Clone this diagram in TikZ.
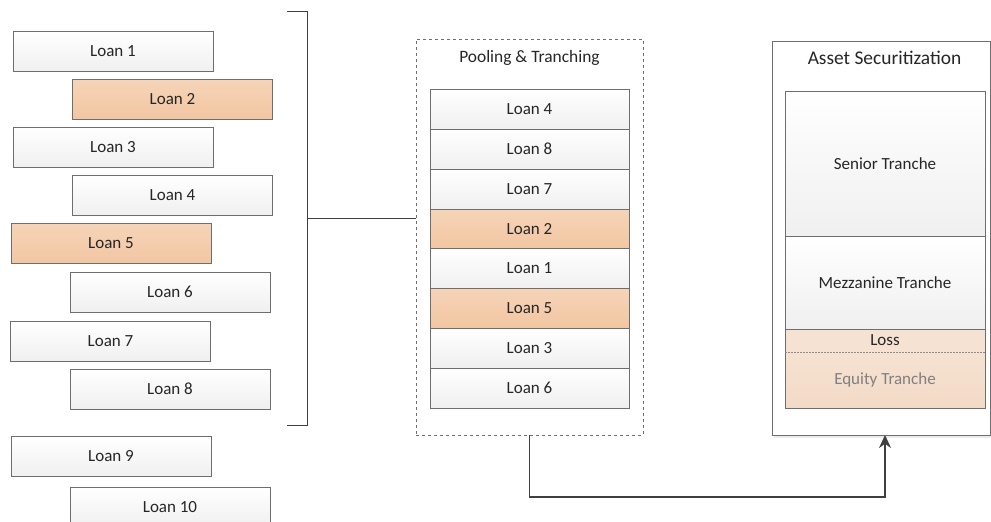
\documentclass[tikz,border=0pt]{standalone}
\usepackage{fontspec}
\setmainfont{Carlito}
\usetikzlibrary{arrows.meta,positioning,calc}

\definecolor{edge}{RGB}{110,110,110}
\definecolor{linegray}{RGB}{64,64,64}
\definecolor{orangetop}{RGB}{246,212,184}
\definecolor{orangebot}{RGB}{242,198,162}
\definecolor{paletop}{RGB}{246,226,210}
\definecolor{palebot}{RGB}{242,218,198}

\begin{document}
\begin{tikzpicture}[
  x=1pt, y=-1pt,
  loan/.style={draw=edge, line width=0.8pt, minimum width=200pt, minimum height=40pt,
               inner sep=0pt, outer sep=0pt, top color=white, bottom color=black!6,
               font=\fontsize{17}{19}\selectfont, text=black!85},
  hot/.style={loan, top color=orangetop, bottom color=orangebot},
  row/.style={loan, minimum width=199pt, minimum height=39.9pt},
  panel/.style={draw=edge, line width=0.8pt, inner sep=0pt, outer sep=0pt},
  ttl/.style={font=\fontsize{17.4}{19}\selectfont, text=black!85},
  >={Stealth[length=13pt,width=12pt]}
]
  \useasboundingbox (0,0) rectangle (991,522);

  % individual loans
  \node[loan] (l1)  at (113,51.5)   {Loan 1};
  \node[hot]  (l2)  at (172.5,99.5) {Loan 2};
  \node[loan] (l3)  at (113,147)    {Loan 3};
  \node[loan] (l4)  at (172.5,195.5){Loan 4};
  \node[hot]  (l5)  at (111,243.5)  {Loan 5};
  \node[loan] (l6)  at (170,292)    {Loan 6};
  \node[loan] (l7)  at (110.5,341)  {Loan 7};
  \node[loan] (l8)  at (170,389)    {Loan 8};
  \node[loan] (l9)  at (111,456.5)  {Loan 9};
  \node[loan] (l10) at (170,507)    {Loan 10};

  % pool
  \node[panel, dashed, minimum width=227pt, minimum height=396pt] (pool) at (529.5,237) {};
  \node[ttl] (pooltitle) at (529.5,58) {Pooling \& Tranching};
  \node[row] (p4) at (529.5,109) {Loan 4};
  \node[row] (p8) at (529.5,149) {Loan 8};
  \node[row] (p7) at (529.5,189) {Loan 7};
  \node[row, top color=orangetop, bottom color=orangebot] (p2) at (529.5,229) {Loan 2};
  \node[row] (p1) at (529.5,268.5) {Loan 1};
  \node[row, top color=orangetop, bottom color=orangebot] (p5) at (529.5,308) {Loan 5};
  \node[row] (p3) at (529.5,348) {Loan 3};
  \node[row] (p6) at (529.5,388) {Loan 6};

  % securitization
  \fill[black!8] (774,435) rectangle (991,438);
  \node[panel, fill=white, minimum width=218pt, minimum height=394pt] (asset) at (881,238) {};
  \node[ttl, font=\fontsize{19.4}{21}\selectfont] (assettitle) at (884.5,58) {Asset Securitization};
  \node[loan, minimum height=145pt] (senior) at (885,163.5) {Senior Tranche};
  \node[loan, minimum height=93pt]  (mezz)   at (885,282.5) {Mezzanine Tranche};
  \node[loan, draw=none, top color=paletop, bottom color=paletop, minimum height=23pt] (loss) at (885,340.5) {Loss};
  \node[loan, draw=none, top color=paletop, bottom color=palebot, minimum height=56pt, text=black!50] (equity) at (885,380) {Equity Tranche};
  \draw[edge, line width=0.8pt] (loss.north west) rectangle (equity.south east);
  \draw[black!45, line width=0.7pt, dash pattern=on 2pt off 1pt] (loss.south west) -- (loss.south east);

  % bracket
  \coordinate (btop) at (287,11);
  \coordinate (bbot) at (287,425);
  \coordinate (bmid) at (307,218);
  \draw[linegray, line width=0.8pt] (btop) -- ++(20,0) |- (bbot);
  \draw[linegray, line width=0.8pt] (bmid) -- (bmid -| pool.west);

  % pool to securitization
  \coordinate (turn) at (529.5,497);
  \draw[->, linegray, line width=1.3pt] (pool.south) -- (turn) -| (equity.south |- asset.south);
\end{tikzpicture}
\end{document}
